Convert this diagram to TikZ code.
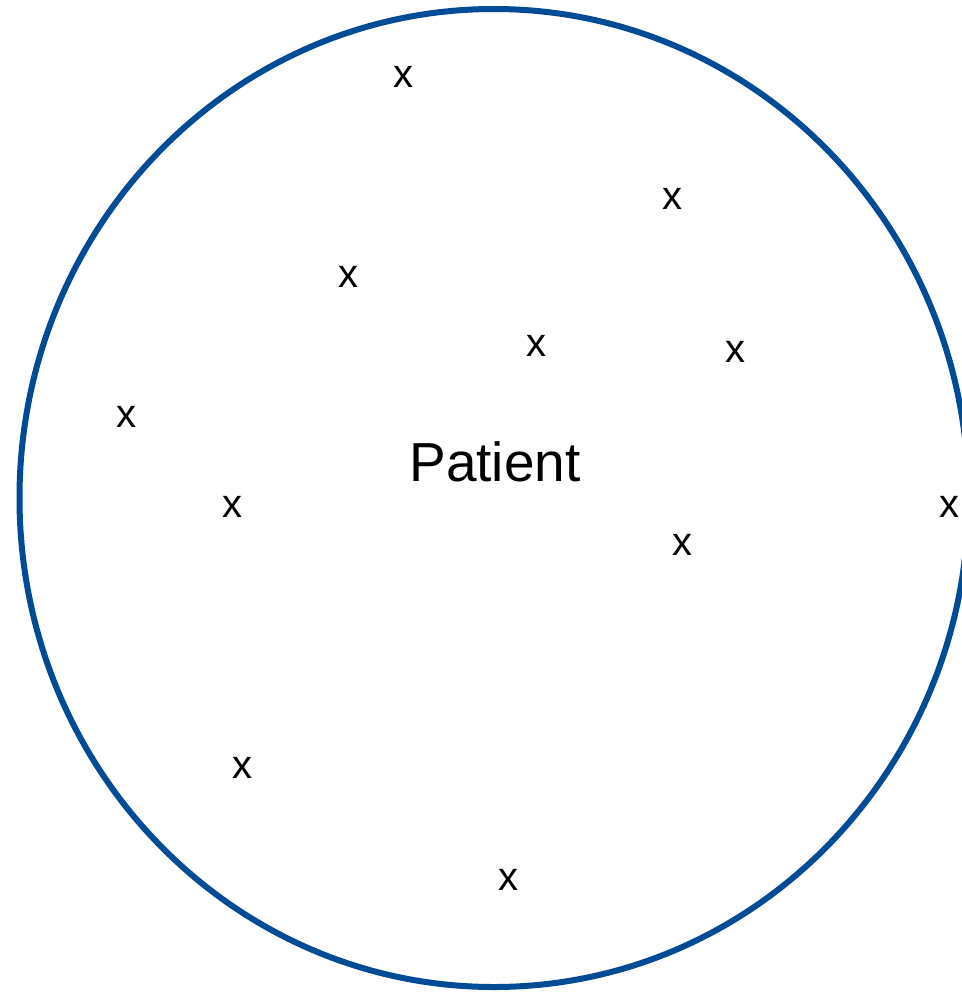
\documentclass[tikz,border=0pt]{standalone}
\usepackage{fontspec}
\setmainfont{Liberation Sans}
\definecolor{rimblue}{RGB}{0,75,150}
\begin{document}
\begin{tikzpicture}[x=1pt,y=-1pt,
  crossmark/.style={inner sep=0pt,font=\fontsize{40}{40}\selectfont},
  label/.style={inner sep=0pt,font=\fontsize{55}{55}\selectfont}]
\useasboundingbox (0,0) rectangle (961,993);
\draw[rimblue,line width=6pt] (494,498) ellipse [x radius=474.5,y radius=489];

\node[label] (patient) at (495,462) {Patient};

\node[crossmark] (m1) at (403,77) {x};
\node[crossmark] (m2) at (672,199) {x};
\node[crossmark] (m3) at (348,277) {x};
\node[crossmark] (m4) at (536,346) {x};
\node[crossmark] (m5) at (735,352) {x};
\node[crossmark] (m6) at (126,417) {x};
\node[crossmark] (m7) at (232,507) {x};
\node[crossmark] (m8) at (949,507) {x};
\node[crossmark] (m9) at (682,545) {x};
\node[crossmark] (m10) at (242,768) {x};
\node[crossmark] (m11) at (508,880) {x};
\end{tikzpicture}
\end{document}
